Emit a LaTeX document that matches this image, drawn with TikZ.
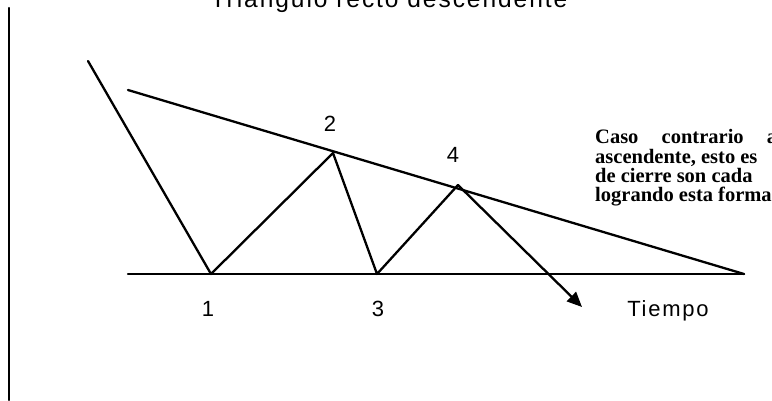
\documentclass[tikz,border=0pt]{standalone}
\usepackage{fontspec}
\setmainfont{Liberation Serif}
\newfontfamily\sansf[LetterSpace=8]{Liberation Sans}
\usetikzlibrary{arrows.meta}
\begin{document}
\begin{tikzpicture}[x=1pt,y=-1pt,
  ln/.style={line width=2.3pt, line join=round, line cap=round},
  lbl/.style={font=\sansf\fontsize{22}{22}\selectfont, inner sep=0pt, anchor=base},
  para/.style={font=\bfseries\fontsize{20.5}{20.5}\selectfont, inner sep=0pt, anchor=base west}]
\useasboundingbox (0,0) rectangle (772,400);
\clip (0,0) rectangle (772,400);
% points
\coordinate (top) at (88,61);
\coordinate (p1) at (211,274);
\coordinate (p2) at (333,153);
\coordinate (p3) at (377,274);
\coordinate (p4) at (458,185);
\coordinate (tip) at (582,307);
\coordinate (bl) at (128,274);
\coordinate (br) at (744,274);
\coordinate (tl) at (128,90);
\coordinate (vt) at (9,8);
\coordinate (vb) at (9,400);
% title
\node[lbl, font=\sansf\fontsize{24.5}{24.5}\selectfont] (title) at (389,7) {Triangulo recto descendente};
% frame line
\draw[ln] (vt) -- (vb);
% triangle
\draw[ln] (bl) -- (br);
\draw[ln] (tl) -- (br);
% price path
\draw[ln] (top) -- (p1) -- (p2) -- (p3) -- (p4);
\draw[ln, -{Triangle[length=15pt,width=13pt]}] (p4) -- (tip);
% labels
\node[lbl] (l1) at (208,316) {1};
\node[lbl] (l2) at (330,131) {2};
\node[lbl] (l3) at (378,316) {3};
\node[lbl] (l4) at (453,162) {4};
\node[lbl] (tiempo) at (668,316) {Tiempo};
% text block
\node[para] (t1) at (595,143) {\makebox[182pt][s]{Caso\hfill contrario\hfill a}};
\node[para] (t2) at (595,163) {ascendente, esto es};
\node[para] (t3) at (595,182) {de cierre son cada};
\node[para] (t4) at (595,201) {logrando esta forma};
\end{tikzpicture}
\end{document}
